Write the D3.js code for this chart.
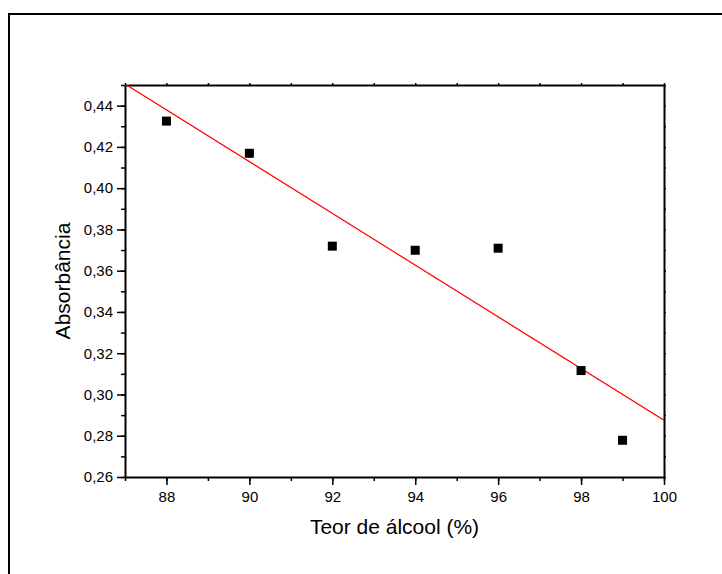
<!DOCTYPE html>
<html>
<head>
<meta charset="utf-8">
<script src="https://cdn.jsdelivr.net/npm/d3@7"></script>
<style>
  body { margin: 0; background: #fff; }
  svg text { font-family: Arial, "Liberation Sans", sans-serif; fill: #000; }
</style>
</head>
<body>
<div id="chart"><svg></svg></div>
<script>
// data
var teor = [88, 90, 92, 94, 96, 98, 99];
var absorbancia = [0.4325, 0.4169, 0.3719, 0.3699, 0.3709, 0.3116, 0.2778];
var xTicks = [88, 90, 92, 94, 96, 98, 100];
var yTicks = [0.26, 0.28, 0.30, 0.32, 0.34, 0.36, 0.38, 0.40, 0.42, 0.44];

var width = 722, height = 574;
var plotL = 125, plotR = 664, plotT = 85, plotB = 477;

var svg = d3.select('#chart').select('svg')
  .attr('width', width).attr('height', height);

// outer frame (only top and left edges are on screen)
svg.append('rect')
  .attr('x', 9).attr('y', 14)
  .attr('width', 760).attr('height', 600)
  .attr('fill', 'none').attr('stroke', '#000').attr('stroke-width', 2);

var x = d3.scaleLinear().domain([87, 100]).range([plotL, plotR]);
var y = d3.scaleLinear().domain([0.26, 0.45]).range([plotB, plotT]);

var fmt = function(d) { return d3.format('.2f')(d).replace('.', ','); };

// minor ticks
var xMinor = d3.range(87, 100.5, 1);
var yMinor = d3.range(0.26, 0.4505, 0.01);

// bottom axis
svg.append('g').attr('transform', 'translate(0,' + plotB + ')')
  .call(d3.axisBottom(x).tickValues(xMinor).tickSize(4).tickFormat(''))
  .call(function(g) { g.select('.domain').remove(); g.selectAll('line').attr('stroke-width', 1.5); });
svg.append('g').attr('transform', 'translate(0,' + plotB + ')')
  .call(d3.axisBottom(x).tickValues(xTicks).tickSize(8).tickSizeOuter(0).tickPadding(6).tickFormat(d3.format('d')))
  .call(function(g) {
    g.select('.domain').attr('stroke-width', 2);
    g.selectAll('line').attr('stroke-width', 1.5);
    g.selectAll('text').attr('font-size', 15);
  });

// left axis
svg.append('g').attr('transform', 'translate(' + plotL + ',0)')
  .call(d3.axisLeft(y).tickValues(yMinor).tickSize(4).tickFormat(''))
  .call(function(g) { g.select('.domain').remove(); g.selectAll('line').attr('stroke-width', 1.5); });
svg.append('g').attr('transform', 'translate(' + plotL + ',0)')
  .call(d3.axisLeft(y).tickValues(yTicks).tickSize(8).tickSizeOuter(0).tickPadding(4).tickFormat(fmt))
  .call(function(g) {
    g.select('.domain').attr('stroke-width', 2);
    g.selectAll('line').attr('stroke-width', 1.5);
    g.selectAll('text').attr('font-size', 15);
  });

// top and right axes with tiny ticks
svg.append('g').attr('transform', 'translate(0,' + plotT + ')')
  .call(d3.axisTop(x).tickValues(xMinor).tickSize(2).tickSizeOuter(0).tickFormat(''))
  .call(function(g) { g.select('.domain').attr('stroke-width', 2); g.selectAll('line').attr('stroke-width', 1.5); });
svg.append('g').attr('transform', 'translate(' + plotR + ',0)')
  .call(d3.axisRight(y).tickValues(yMinor).tickSize(2).tickSizeOuter(0).tickFormat(''))
  .call(function(g) { g.select('.domain').attr('stroke-width', 2); g.selectAll('line').attr('stroke-width', 1.5); });

// linear fit (least squares)
var mx = d3.mean(teor), my = d3.mean(absorbancia);
var sxy = d3.sum(teor, function(d, i) { return (d - mx) * (absorbancia[i] - my); });
var sxx = d3.sum(teor, function(d) { return (d - mx) * (d - mx); });
var slope = sxy / sxx, icpt = my - slope * mx;

svg.append('clipPath').attr('id', 'plotclip')
  .append('rect').attr('x', plotL).attr('y', plotT)
  .attr('width', plotR - plotL).attr('height', plotB - plotT);

svg.append('line')
  .attr('clip-path', 'url(#plotclip)')
  .attr('x1', x(87)).attr('y1', y(icpt + slope * 87))
  .attr('x2', x(100)).attr('y2', y(icpt + slope * 100))
  .attr('stroke', '#ff0000').attr('stroke-width', 1.2);

// points
svg.selectAll('rect.pt')
  .data(teor)
  .enter()
  .append('rect')
  .attr('class', 'pt')
  .attr('x', function(d) { return x(d) - 4.5; })
  .attr('y', function(d, i) { return y(absorbancia[i]) - 4.5; })
  .attr('width', 9).attr('height', 9)
  .attr('fill', '#000');

// axis titles
svg.append('text')
  .attr('x', (plotL + plotR) / 2).attr('y', 534)
  .attr('text-anchor', 'middle').attr('font-size', 21)
  .text('Teor de álcool (%)');

svg.append('text')
  .attr('transform', 'translate(70,' + ((plotT + plotB) / 2) + ') rotate(-90)')
  .attr('text-anchor', 'middle').attr('font-size', 21)
  .text('Absorbância');
</script>
</body>
</html>
